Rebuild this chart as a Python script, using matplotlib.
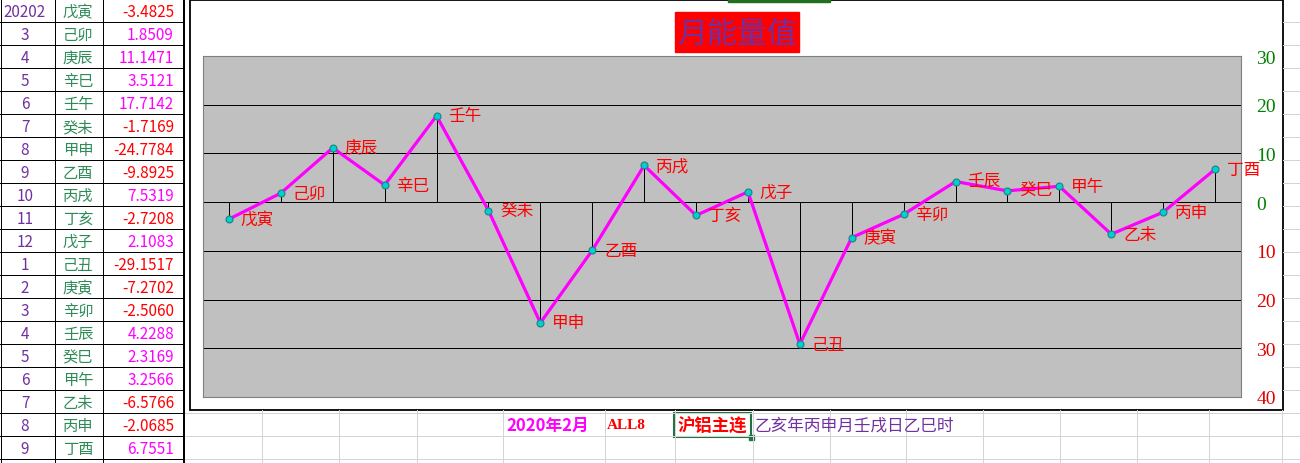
import matplotlib.pyplot as plt
from matplotlib.patches import Rectangle

plt.rcParams['font.family'] = ['Noto Sans CJK SC', 'DejaVu Sans']

# data
months = ['20202', '3', '4', '5', '6', '7', '8', '9', '10', '11', '12',
          '1', '2', '3', '4', '5', '6', '7', '8', '9']
ganzhi = ['戊寅', '己卯', '庚辰', '辛巳', '壬午', '癸未', '甲申', '乙酉', '丙戌', '丁亥',
          '戊子', '己丑', '庚寅', '辛卯', '壬辰', '癸巳', '甲午', '乙未', '丙申', '丁酉']
values = [-3.4825, 1.8509, 11.1471, 3.5121, 17.7142, -1.7169, -24.7784, -9.8925,
          7.5319, -2.7208, 2.1083, -29.1517, -7.2702, -2.5060, 4.2288, 2.3169,
          3.2566, -6.5766, -2.0685, 6.7551]
yticks = [30, 20, 10, 0, -10, -20, -30, -40]

W, H = 1300, 464
fig = plt.figure(figsize=(W / 100, H / 100), dpi=100)

# sheet layer in pixel coordinates
bg = fig.add_axes([0, 0, 1, 1])
bg.set_xlim(0, W)
bg.set_ylim(H, 0)
bg.axis('off')

px = 0.72  # one pixel in points
grey = '#D4D4D4'

# spreadsheet grid below / right of the chart
for y in [413.5, 436.5, 459.5]:
    bg.plot([185, W], [y, y], color=grey, lw=px)
for k in range(1, 18):
    y = 23 * k - 0.5
    bg.plot([1283, W], [y, y], color=grey, lw=px)
for x in [261, 338, 416, 502, 604, 674, 752, 829, 905, 982, 1059, 1136, 1208, 1281]:
    bg.plot([x + 0.5, x + 0.5], [411, H], color=grey, lw=px)

# left table
for k in range(1, 21):
    bg.plot([0, 184], [23 * k, 23 * k], color='black', lw=px)
for x in [0.5, 54.5, 102.5]:
    bg.plot([x, x], [0, H], color='black', lw=px)
bg.plot([184, 184], [0, H], color='black', lw=2 * px)

for i, (m, g, v) in enumerate(zip(months, ganzhi, values)):
    yc = 23 * i + 12.5
    bg.text(25, yc, m, color='#7030A0', fontsize=11, ha='center', va='center')
    bg.text(78, yc, g, color='#2E8B57', fontsize=11, ha='center', va='center')
    bg.text(174, yc, f'{v:.4f}', color='#FF00FF' if v >= 0 else '#FF0000',
            fontsize=11, ha='right', va='center')

# chart frame and title
bg.add_patch(Rectangle((189.5, 0.5), 1093, 410, fill=False, ec='black', lw=1.3))
bg.add_patch(Rectangle((728, 0), 102, 3, color='#1F6F1F'))
bg.add_patch(Rectangle((675, 13), 124, 40, color='#FF0000'))
bg.text(737, 34, '月能量值', color='#7030A0', fontsize=21.5, ha='center', va='center')

# footer cells
bg.text(506, 426, '2020年2月', color='#FF00FF', fontsize=12, fontweight='bold',
        ha='left', va='center')
bg.text(607, 426, 'ALL8', color='#FF0000', fontsize=11, fontweight='bold',
        family='Liberation Serif', ha='left', va='center')
bg.add_patch(Rectangle((674, 414), 77, 24, fill=False, ec='#217346', lw=1.5))
bg.add_patch(Rectangle((749, 436), 5, 5, color='#217346'))
bg.text(712, 426, '沪铝主连', color='#FF0000', fontsize=12.5, fontweight='bold',
        ha='center', va='center')
bg.text(755, 426, '乙亥年丙申月壬戌日乙巳时', color='#7030A0', fontsize=12,
        ha='left', va='center')

# plot area
ax = fig.add_axes([203 / W, 1 - 398 / H, 1038 / W, 341 / H])
ax.set_facecolor('#C0C0C0')
for s in ax.spines.values():
    s.set_color('#808080')
ax.set_xlim(-0.5, len(values) - 0.5)
ax.set_ylim(-40, 30)
ax.set_xticks([])

ax.yaxis.tick_right()
ax.set_yticks(yticks)
ax.set_yticklabels([str(abs(t)) for t in yticks], family='Liberation Serif', fontsize=14)
for lab, t in zip(ax.get_yticklabels(), yticks):
    lab.set_color('#008000' if t >= 0 else '#E00000')
ax.tick_params(axis='y', length=0, pad=11)

for t in yticks[1:-1]:
    ax.axhline(t, color='black', lw=px, zorder=1)

xs = list(range(len(values)))
ax.vlines(xs, 0, values, color='black', lw=px, zorder=2)
ax.plot(xs, values, color='#FF00FF', lw=2.3, zorder=3,
        marker='o', markersize=5, markerfacecolor='#00D0D0',
        markeredgecolor='#208080', markeredgewidth=0.8)

for x, v, g in zip(xs, values, ganzhi):
    ax.annotate(g, (x, v), xytext=(8.5, 0), textcoords='offset points',
                color='#FF0000', fontsize=12, ha='left', va='center',
                annotation_clip=False, zorder=4)

fig.savefig('out.png', dpi=100)
